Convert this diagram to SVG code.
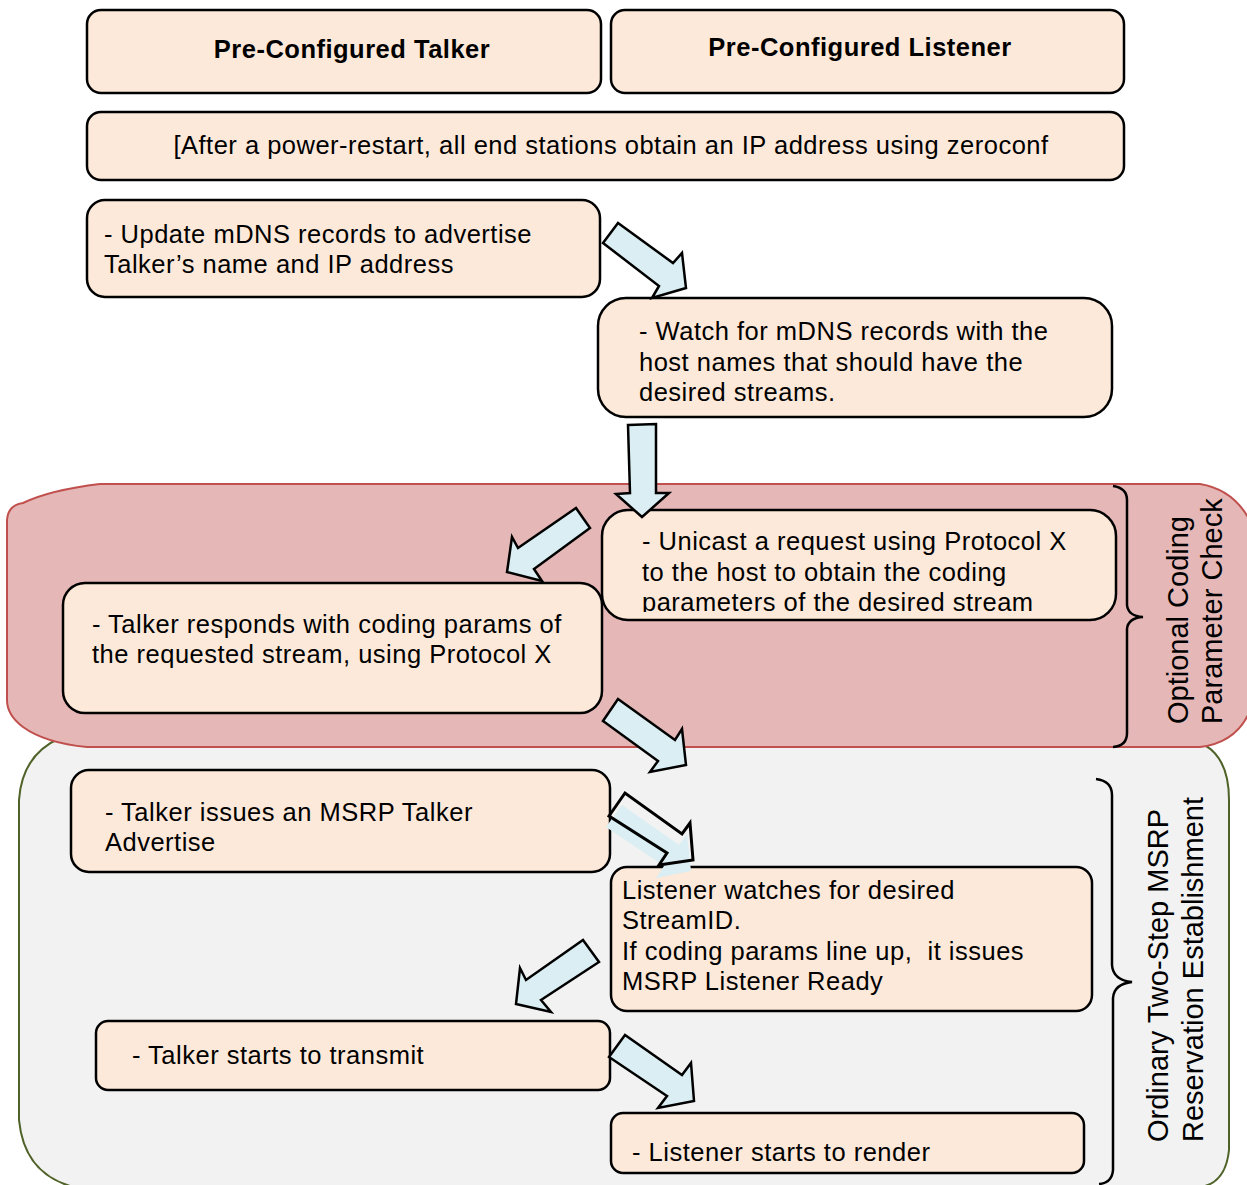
<svg xmlns="http://www.w3.org/2000/svg" width="1247" height="1185" viewBox="0 0 1247 1185">
<defs>
<style>
.box{fill:#FDE9D9;stroke:#000;stroke-width:2.5}
.t{font-family:"Liberation Sans",Arial,sans-serif;font-size:25.5px;letter-spacing:0.5px;fill:#000}
.h{font-family:"Liberation Sans",Arial,sans-serif;font-size:25.5px;letter-spacing:0.5px;font-weight:bold;fill:#000}
.v{font-family:"Liberation Sans",Arial,sans-serif;font-size:29px;fill:#000}
.arr{fill:#DAEEF3;stroke:#000;stroke-width:2.5;stroke-linejoin:miter}
.brace{fill:none;stroke:#000;stroke-width:2.5}
</style>
<clipPath id="clipU"><rect x="602" y="510" width="514" height="102"/></clipPath>
</defs>
<rect width="1247" height="1185" fill="#fff"/>
<g id="region-msrp">
<path d="M60,738 L1180,738 Q1229,742 1229,800 L1229,1150 Q1226,1180 1205,1186 L70,1186 Q24,1172 19,1120 L19,800 Q22,755 60,738 Z" fill="#F2F2F2" stroke="#4F6228" stroke-width="2"/>
</g>
<g id="region-optional">
<path d="M100,484 L1200,484 Q1236,490 1252,525 L1252,705 Q1240,742 1200,747 L87,747 Q45,743 23,727 Q7,715 7,700 L7,520 Q8,505 23,503 Q50,490 100,484 Z" fill="#E5B8B7" stroke="#C0504D" stroke-width="2"/>
</g>
<g id="n-talker-hdr"><rect class="box" x="87" y="10" width="514" height="83" rx="14"/><text class="h" x="352" y="58" text-anchor="middle">Pre-Configured Talker</text></g>
<g id="n-listener-hdr"><rect class="box" x="611" y="10" width="513" height="83" rx="14"/><text class="h" x="860" y="56" text-anchor="middle">Pre-Configured Listener</text></g>
<g id="n-power"><rect class="box" x="87" y="112" width="1037" height="68" rx="14"/><text class="t" x="611" y="154" text-anchor="middle">[After a power-restart, all end stations obtain an IP address using zeroconf</text></g>
<g id="n-update"><rect class="box" x="87" y="200" width="513" height="97" rx="18"/><text class="t"><tspan x="104" y="243">- Update mDNS records to advertise</tspan><tspan x="104" y="273">Talker’s name and IP address</tspan></text></g>
<g id="n-watch"><rect class="box" x="598" y="298" width="514" height="119" rx="28"/><text class="t"><tspan x="639" y="340">- Watch for mDNS records with the</tspan><tspan x="639" y="371">host names that should have the</tspan><tspan x="639" y="401">desired streams.</tspan></text></g>
<g id="n-unicast"><rect class="box" x="602" y="510" width="514" height="110" rx="26"/><g clip-path="url(#clipU)"><text class="t"><tspan x="642" y="550">- Unicast a request using Protocol X</tspan><tspan x="642" y="581">to the host to obtain the coding</tspan><tspan x="642" y="611">parameters of the desired stream</tspan></text></g></g>
<g id="n-responds"><rect class="box" x="63" y="583" width="539" height="130" rx="22"/><text class="t"><tspan x="92" y="633">- Talker responds with coding params of</tspan><tspan x="92" y="663">the requested stream, using Protocol X</tspan></text></g>
<g id="n-advertise"><rect class="box" x="71" y="770" width="539" height="102" rx="18"/><text class="t"><tspan x="105" y="821">- Talker issues an MSRP Talker</tspan><tspan x="105" y="851">Advertise</tspan></text></g>
<g id="n-ready"><rect class="box" x="611" y="867" width="481" height="144" rx="16"/><text class="t" style="white-space:pre"><tspan x="622" y="899">Listener watches for desired</tspan><tspan x="622" y="929">StreamID.</tspan><tspan x="622" y="960">If coding params line up,  it issues</tspan><tspan x="622" y="990">MSRP Listener Ready</tspan></text></g>
<g id="n-transmit"><rect class="box" x="96" y="1021" width="514" height="69" rx="12"/><text class="t" x="132" y="1064">- Talker starts to transmit</text></g>
<g id="n-render"><rect class="box" x="611" y="1113" width="473" height="60" rx="12"/><text class="t" x="632" y="1161">- Listener starts to render</text></g>
<g id="connectors">
<polygon class="arr" points="603,243 618,223 673,263 682,253 686,288 652,298 659,286"/>
<polygon class="arr" points="628,425 656,424 656,493 669,493 642,517 616,494 630,493"/>
<polygon class="arr" points="576,508 590,528 534,569 542,581 507,572 512,537 518,548"/>
<polygon class="arr" points="603,721 618,699 675,740 682,729 686,765 650,772 658,761"/>
<polygon points="606,827 622,805 679,845 687,834 691,871 656,878 664,866" fill="#DAEEF3"/>
<polygon points="609,816 625,793 682,834 690,823 693,860 659,865 667,853" fill="none" stroke="#000" stroke-width="3"/>
<polygon class="arr" points="583,940 599,962 541,1000 551,1012 516,1004 520,968 526,980"/>
<polygon class="arr" points="609,1057 625,1035 682,1075 691,1063 694,1101 658,1108 667,1096"/>
</g>
<g id="brace-optional">
<path class="brace" d="M1113,486 Q1127,488 1127,500 L1127,605 Q1128,616 1143,617 Q1128,618 1127,629 L1127,733 Q1127,746 1113,747"/>
<text class="v" transform="translate(1188,724) rotate(-90)"><tspan x="0" y="0">Optional Coding</tspan><tspan x="0" y="34">Parameter Check</tspan></text>
</g>
<g id="brace-msrp">
<path class="brace" d="M1096,779 Q1112,781 1112,795 L1112,965 Q1113,980 1132,982 Q1114,984 1113,998 L1113,1170 Q1112,1183 1099,1184"/>
<text class="v" transform="translate(1168,1142) rotate(-90)"><tspan x="0" y="0">Ordinary Two-Step MSRP</tspan><tspan x="0" y="35">Reservation Establishment</tspan></text>
</g>
</svg>
